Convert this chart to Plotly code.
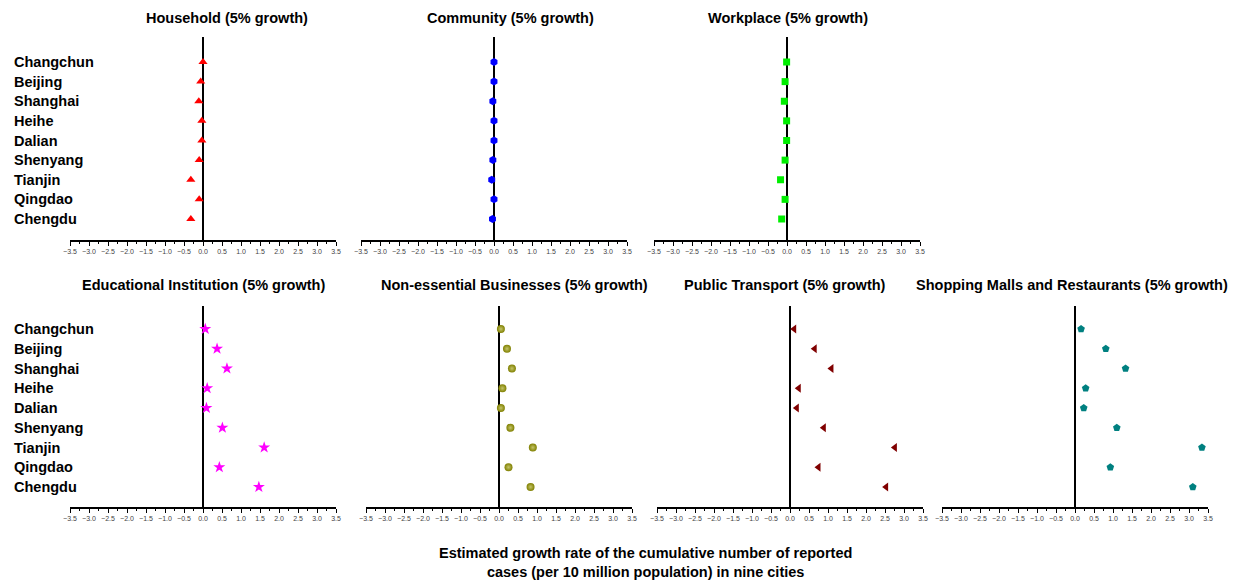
import plotly.graph_objects as go

W, H = 1236, 581

cities = ["Changchun", "Beijing", "Shanghai", "Heihe", "Dalian",
          "Shenyang", "Tianjin", "Qingdao", "Chengdu"]

household = [0.00, -0.06, -0.11, -0.03, -0.03, -0.10, -0.32, -0.10, -0.32]
community = [0.00, 0.00, -0.03, 0.00, 0.00, -0.03, -0.06, 0.00, -0.04]
workplace = [-0.01, -0.05, -0.07, -0.01, -0.01, -0.05, -0.17, -0.05, -0.14]
educational = [0.06, 0.37, 0.63, 0.11, 0.09, 0.51, 1.61, 0.43, 1.47]
non_essential = [0.05, 0.21, 0.34, 0.09, 0.05, 0.30, 0.89, 0.25, 0.83]
public_transport = [0.11, 0.65, 1.09, 0.23, 0.18, 0.89, 2.76, 0.75, 2.53]
shopping = [0.16, 0.81, 1.33, 0.28, 0.23, 1.10, 3.34, 0.93, 3.10]

x_ticks = [-3.5, -3.0, -2.5, -2.0, -1.5, -1.0, -0.5, 0.0, 0.5, 1.0, 1.5, 2.0, 2.5, 3.0, 3.5]

# panel layout in pixels: (title, values, symbol, colour, size, x0, x1, row, title centre)
panels = [
    ("Household (5% growth)", household, "triangle-up", "#ff0000", 8, 70, 336, 0, 227),
    ("Community (5% growth)", community, "hexagon", "#0000ff", 8, 361, 627, 0, 510),
    ("Workplace (5% growth)", workplace, "square", "#00ee00", 7, 654, 920, 0, 788),
    ("Educational Institution (5% growth)", educational, "star", "#ff00ff", 9, 70, 336, 1, 203),
    ("Non-essential Businesses (5% growth)", non_essential, "circle", "#808000", 8, 366, 632, 1, 514),
    ("Public Transport (5% growth)", public_transport, "triangle-left", "#800000", 8, 657, 923, 1, 785),
    ("Shopping Malls and Restaurants (5% growth)", shopping, "pentagon", "#008080", 8, 942, 1208, 1, 1072),
]

# vertical extents per row: (top of zero line, axis line, first city row, last city row, title y)
rows = [
    (37, 240, 62, 219, 18),
    (306, 507, 329, 487, 285),
]

FONT = "Liberation Sans, Arial, sans-serif"

fig = go.Figure()
annotations = []

for i, (title, vals, sym, col, msize, x0, x1, r, tcx) in enumerate(panels):
    k = "" if i == 0 else str(i + 1)
    top, bot, c0, c8, ty = rows[r]
    step = (c8 - c0) / 8.0
    y_lo = (bot - c0) / step
    y_hi = (top - c0) / step

    marker = dict(symbol=sym, color=col, size=msize, line=dict(width=0))
    if sym == "circle":
        # shaded ball look for the olive markers
        marker["gradient"] = dict(type="radial", color="#c4c46a")

    fig.add_trace(go.Scatter(
        x=vals, y=cities, mode="markers", marker=marker,
        xaxis="x" + k, yaxis="y" + k, showlegend=False, cliponaxis=False,
    ))

    fig.update_layout(**{
        "xaxis" + k: dict(
            domain=[x0 / W, x1 / W], anchor="y" + k, automargin=False,
            range=[-3.5, 3.5], tickvals=x_ticks, tickformat=".1f",
            ticks="outside", ticklen=4, tickwidth=1, tickcolor="black",
            showline=True, linecolor="black", linewidth=2,
            showgrid=False, zeroline=True, zerolinecolor="black", zerolinewidth=2,
            tickfont=dict(family=FONT, size=7, color="#444444"),
            minor=dict(tickvals=[v + 0.25 for v in x_ticks[:-1]], ticks="outside",
                       ticklen=2, tickcolor="black", showgrid=False),
            fixedrange=True,
        ),
        "yaxis" + k: dict(
            domain=[1 - bot / H, 1 - top / H], anchor="x" + k, automargin=False,
            type="category", categoryorder="array", categoryarray=cities,
            range=[y_lo, y_hi], showticklabels=False, showgrid=False,
            showline=False, zeroline=False, ticks="", fixedrange=True,
        ),
    })

    annotations.append(dict(
        text="<b>" + title + "</b>", xref="paper", yref="paper",
        x=tcx / W, y=1 - ty / H, xanchor="center", yanchor="middle",
        showarrow=False, font=dict(family=FONT, size=14.5, color="black"),
    ))

    # city names at the left of each row
    if x0 == 70:
        for c in cities:
            annotations.append(dict(
                text="<b>" + c + "</b>", xref="paper", yref="y" + k,
                x=12 / W, y=c, xanchor="left", yanchor="middle",
                showarrow=False, font=dict(family=FONT, size=14.5, color="black"),
            ))

annotations.append(dict(
    text="<b>Estimated growth rate of the cumulative number of reported<br>"
         "cases (per 10 million population) in nine cities</b>",
    xref="paper", yref="paper", x=645 / W, y=1 - 562 / H,
    xanchor="center", yanchor="middle", showarrow=False, align="center",
    font=dict(family=FONT, size=14.5, color="black"),
))

fig.update_layout(
    width=W, height=H, margin=dict(l=0, r=0, t=0, b=0, autoexpand=False),
    paper_bgcolor="white", plot_bgcolor="white",
    annotations=annotations,
)

fig.write_html("out.html")
